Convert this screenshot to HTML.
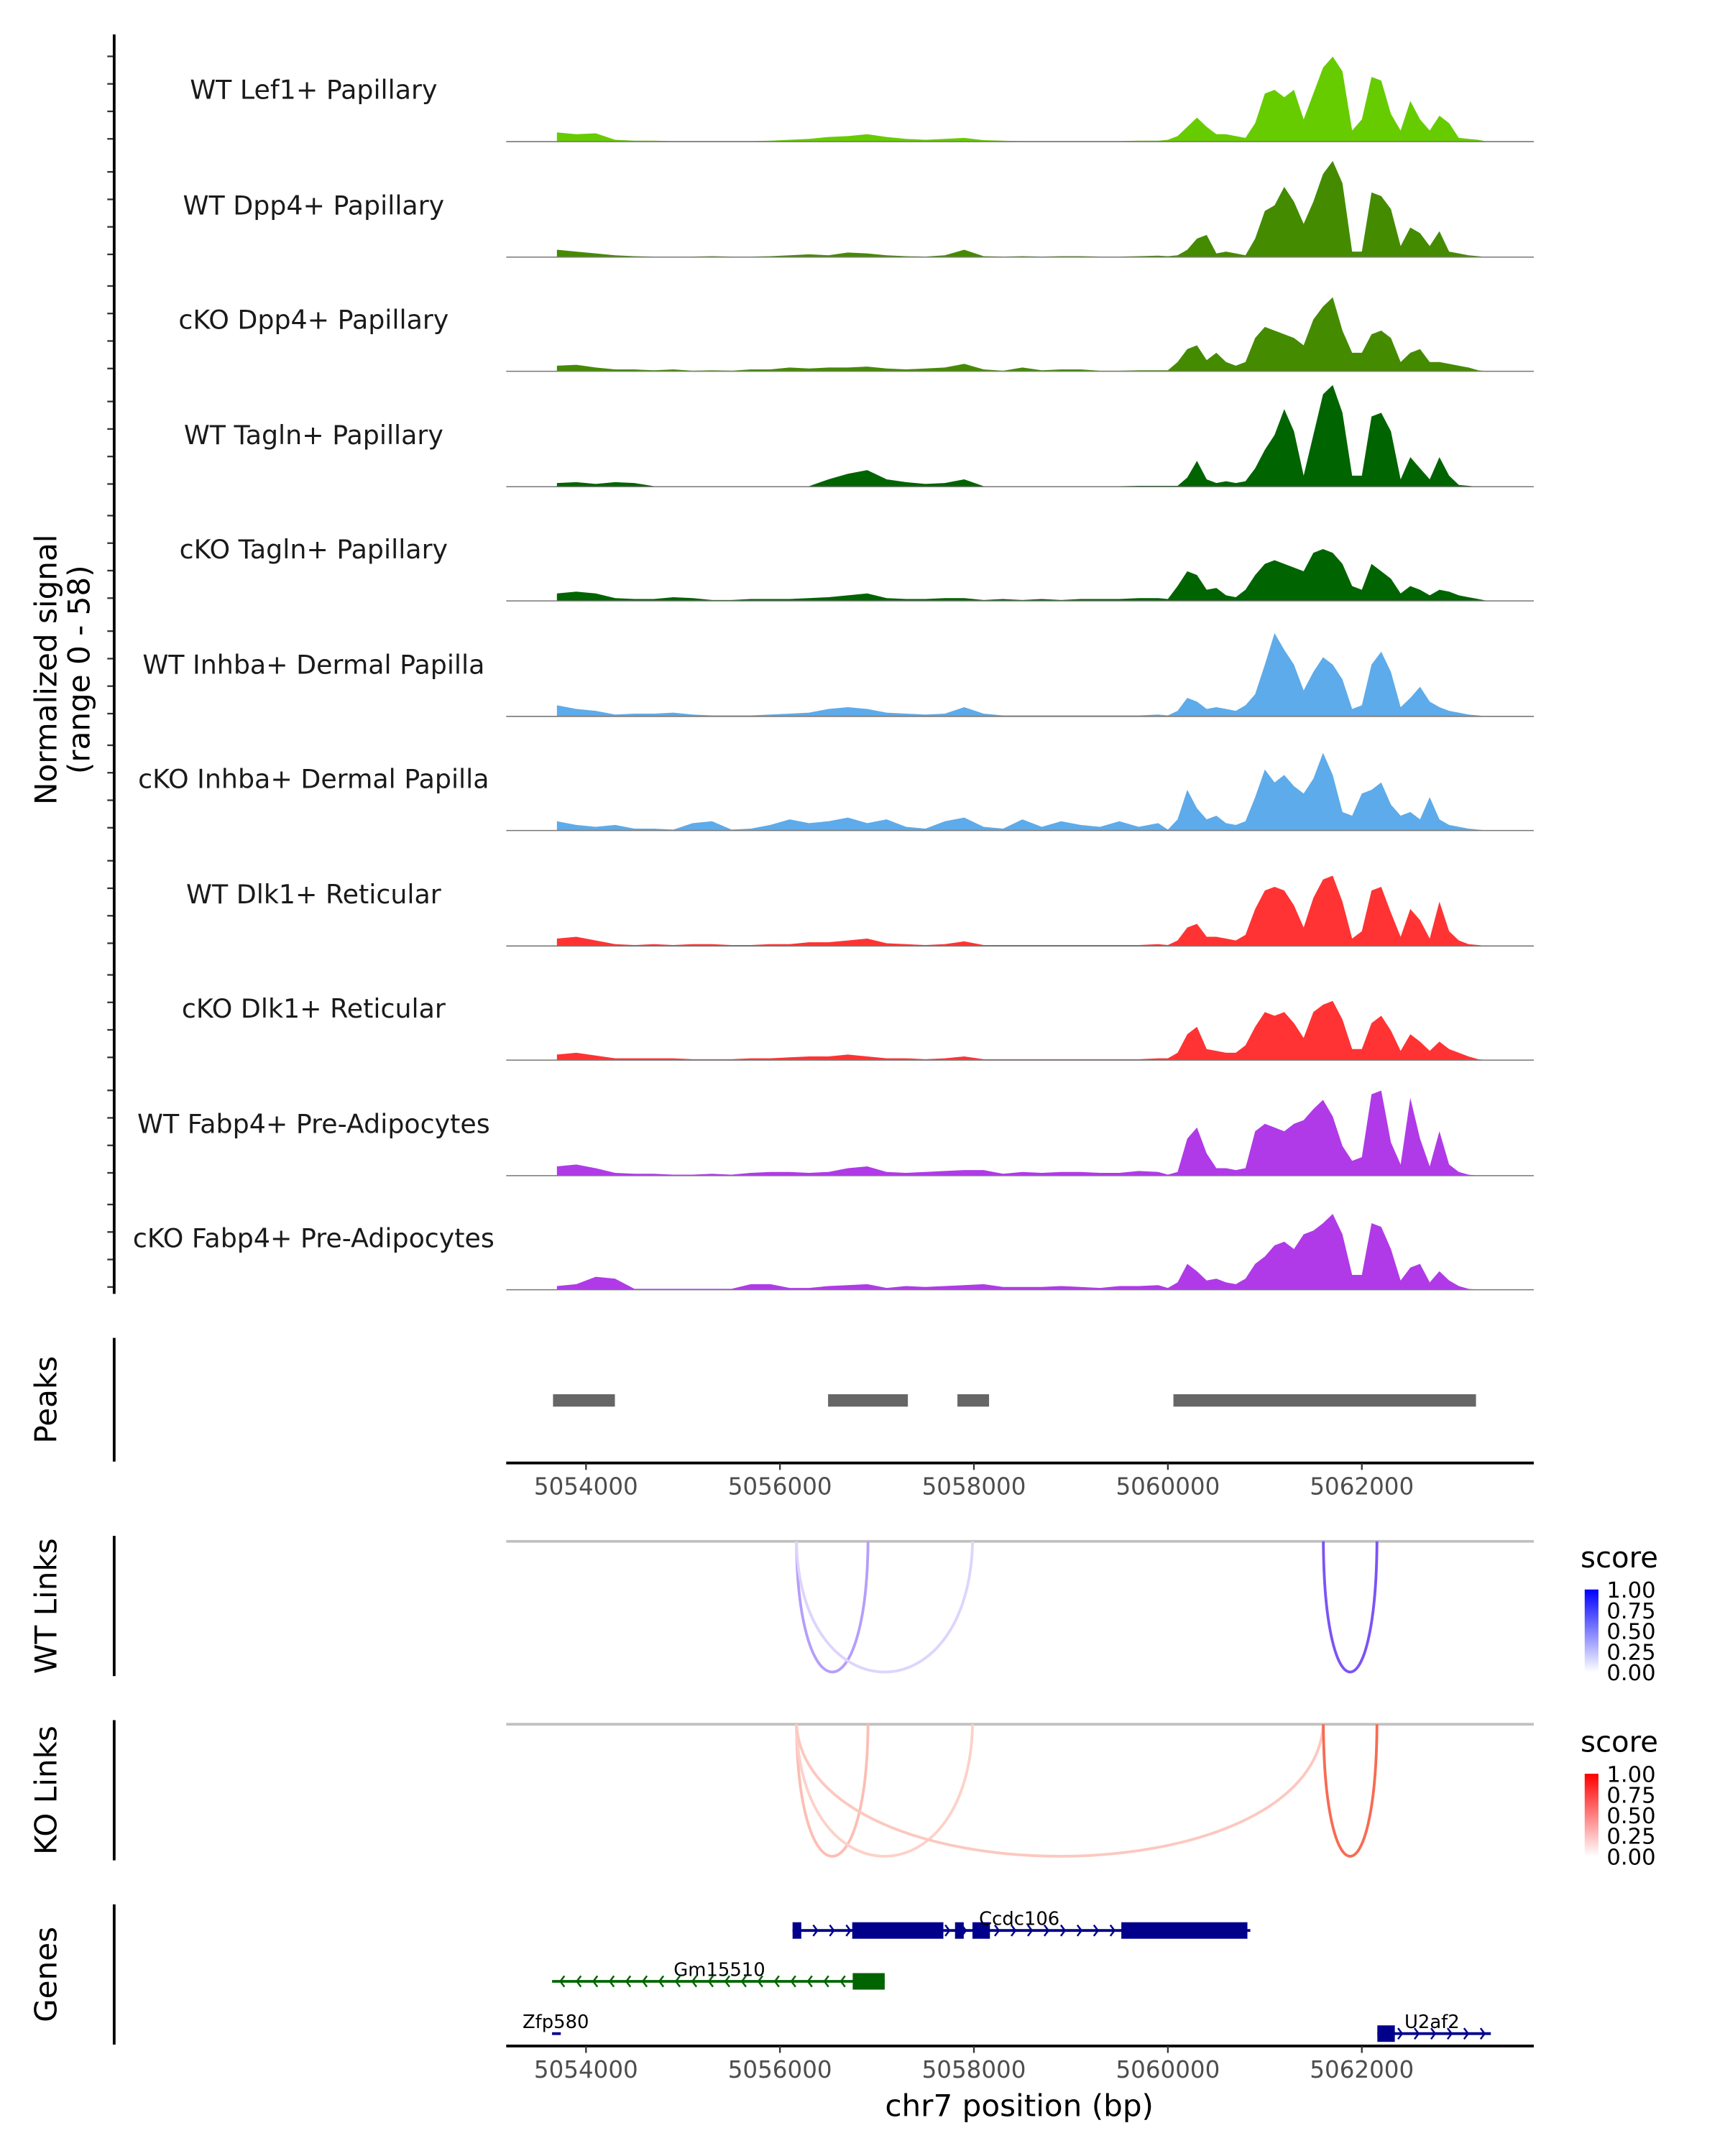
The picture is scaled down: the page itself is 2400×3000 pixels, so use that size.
<!DOCTYPE html>
<html><head><meta charset="utf-8">
<style>
html,body{margin:0;padding:0;background:#fff;}
svg{display:block;font-family:"DejaVu Sans","Liberation Sans",sans-serif;}
</style></head>
<body>
<svg id="chart" width="2400" height="3000" viewBox="0 0 1254 1568" preserveAspectRatio="none" xmlns="http://www.w3.org/2000/svg">
<defs>
<linearGradient id="gBlue" x1="0" y1="0" x2="0" y2="1"><stop offset="0" stop-color="#0000ff"/><stop offset="1" stop-color="#ffffff"/></linearGradient>
<linearGradient id="gRed" x1="0" y1="0" x2="0" y2="1"><stop offset="0" stop-color="#ff0000"/><stop offset="1" stop-color="#ffffff"/></linearGradient>
</defs>
<g id="root"></g>
</svg>
<script>
// ---------- data ----------
const trackNames = ["WT Lef1+ Papillary","WT Dpp4+ Papillary","cKO Dpp4+ Papillary","WT Tagln+ Papillary","cKO Tagln+ Papillary","WT Inhba+ Dermal Papilla","cKO Inhba+ Dermal Papilla","WT Dlk1+ Reticular","cKO Dlk1+ Reticular","WT Fabp4+ Pre-Adipocytes","cKO Fabp4+ Pre-Adipocytes"];
const trackColors = ["#66cc00","#448b00","#448b00","#006400","#006400","#5dabea","#5dabea","#ff3333","#ff3333","#b03ae8","#b03ae8"];
const binsLow = [5053700,5053900,5054100,5054300,5054500,5054700,5054900,5055100,5055300,5055500,5055700,5055900,5056100,5056300,5056500,5056700,5056900,5057100,5057300,5057500,5057700,5057900,5058100,5058300,5058500,5058700,5058900,5059100,5059300,5059500,5059700,5059900];
const binsHigh = [5060000,5060100,5060200,5060300,5060400,5060500,5060600,5060700,5060800,5060900,5061000,5061100,5061200,5061300,5061400,5061500,5061600,5061700,5061800,5061900,5062000,5062100,5062200,5062300,5062400,5062500,5062600,5062700,5062800,5062900,5063000,5063100,5063200,5063300];
const sigLow = [
[5,4,4.5,1,.5,.5,.3,.3,.3,.3,.3,.5,1,1.5,2.5,3,4,2.5,1.5,1,1.5,2,.8,.5,.3,.3,.3,.3,.3,.3,.5,.5],
[4,3,2,1,.5,.3,.3,.3,.5,.3,.3,.5,1,1.5,1,2.5,2,1,.5,.3,1,4,.5,.3,.5,.3,.5,.5,.3,.3,.5,.8],
[3,3.5,2,1,1,.5,1,.3,.5,.3,1,1,2,1.5,2,2,2.5,1.5,1,1.5,2,4,1,.3,2,.5,1,1,.3,.3,.5,.5],
[2,2.5,1.5,2.5,2,.3,.3,.3,.3,.3,.3,.3,.3,.3,4,7,9,4,2.5,1.5,2,4,.3,.3,.3,.3,.3,.3,.3,.3,.5,.5],
[4,5,4,1.5,1,1,2,1.5,.5,.5,1,1,1,1.5,2,3,4,1.5,1,1,1.5,1.5,.5,1,.5,1,.5,1,1,1,1.5,1.5],
[6,4,3,1,1.5,1.5,2,1,.5,.5,.5,1,1.5,2,4,5,4,2,1.5,1,1.5,5,1.5,.5,.5,.5,.5,.5,.5,.5,.5,1],
[5,3,2,3,1,1,.5,4,5,.5,1,3,6,4,5,7,4,6,2,1,5,7,2,1,6,2,5,3,2,5,2,4],
[4,5,3,1,.5,1,.5,1,1,.5,.5,1,1,2,2,3,4,1.5,1,.5,1,2.5,.5,.5,.5,.5,.5,.5,.5,.5,.5,1],
[3,4,2.5,1,1,1,1,.5,.5,.5,1,1,1.5,2,2,3,2,1,1,.5,1,2,.5,.5,.5,.5,.5,.5,.5,.5,.5,1],
[5,6,4,1.5,1,1,.5,.5,1,.5,1.5,2,2,1.5,2,4,5,2,1.5,2,2.5,3,3,1,2,1.5,2,2,1.5,1.5,2.5,2],
[2,3,7,6,.5,.5,.5,.5,.5,.5,3,3,1,1,2,2.5,3,1,2,1.5,2,2.5,3,1.5,1.5,1.5,2,1.5,1,2,2,2.5]
];
const sigHigh = [
[1,3,8,13,8,4,4,3,2,10,26,28,24,28,12,26,40,46,38,6,12,35,33,15,6,22,12,6,14,10,2,1.5,1,0],
[.5,1,4,10,12,2,3,2,1,10,25,28,38,30,18,30,45,52,40,3,3,35,33,26,6,16,13,6,14,3,2,1,.5,0],
[.5,5,12,14,6,10,5,3,5,18,24,22,20,18,14,28,35,40,22,10,10,20,22,18,5,10,12,5,5,4,3,2,.5,0],
[.5,.5,5,14,4,2,3,2,3,10,20,28,42,30,6,28,50,55,40,6,6,38,40,30,4,16,10,4,16,6,1,.5,0,0],
[1,8,16,14,6,7,3,2,6,14,20,22,20,18,16,26,28,26,20,8,6,20,16,12,4,8,6,3,6,5,3,2,1,0],
[.5,3,10,8,4,5,4,3,6,12,28,45,36,28,14,24,32,28,20,4,6,28,35,24,5,10,16,8,5,3,2,1,.5,0],
[.5,6,22,12,6,8,4,3,5,18,33,26,30,24,20,28,42,30,10,8,20,22,26,14,8,10,6,18,6,3,2,1,.5,0],
[.5,3,10,12,5,5,4,3,6,20,30,32,30,22,10,26,36,38,24,4,8,30,32,18,5,20,14,4,24,8,3,1,.5,0],
[1,4,14,18,6,5,4,4,8,18,26,24,26,20,12,26,30,32,22,6,6,20,24,16,5,14,10,5,10,6,4,2,.5,0],
[.5,2,20,26,12,4,4,3,4,24,28,26,24,28,30,36,41,32,16,8,10,44,46,18,6,42,20,5,24,6,2,.5,0,0],
[1,4,14,10,5,6,4,3,6,14,18,24,26,22,30,32,36,41,30,8,8,36,34,22,5,12,14,4,10,5,2,.5,0,0]
];
const peakStarts = [5053660,5056496,5057830,5060057];
const peakEnds = [5054298,5057319,5058156,5063177];
const axisTicks = [5054000,5056000,5058000,5060000,5062000];
const wtLinkStart = [5056170,5056170,5061603];
const wtLinkEnd = [5056908,5057986,5062156];
const wtLinkScore = [0.45,0.2,0.8];
const koLinkStart = [5056170,5056170,5056170,5061603];
const koLinkEnd = [5056908,5057986,5061603,5062156];
const koLinkScore = [0.35,0.25,0.3,0.8];
const legendLabels = ["1.00","0.75","0.50","0.25","0.00"];

// ---------- scales ----------
const X0 = 426, KX = 0.0705;
function xs(bp){ return X0 + (bp - 5054000) * KX; }
const TRACK_H = 78, YMAX = 58;
function ys(v, base){ return base - v / YMAX * TRACK_H; }
const NS = "http://www.w3.org/2000/svg";
const root = document.getElementById("root");
function mk(tag, attrs, parent){
  const e = document.createElementNS(NS, tag);
  for (const k in attrs) e.setAttribute(k, attrs[k]);
  (parent || root).appendChild(e);
  return e;
}

// ---------- coverage tracks ----------
const baselines = [103,187,270,354,437,521,604,688,771,855,938];
const bins = binsLow.concat(binsHigh);
trackNames.forEach((name, i) => {
  const g = mk("g", {});
  
  
  const base = baselines[i];
  const vals = sigLow[i].concat(sigHigh[i]);
  let d = "M" + xs(bins[0]) + "," + base;
  vals.forEach((v, j) => { d += " L" + xs(bins[j]).toFixed(2) + "," + ys(v, base).toFixed(2); });
  d += " L" + xs(bins[bins.length-1]) + "," + base + " Z";
  const area = mk("path", {d: d, fill: trackColors[i], stroke: "none"}, g);
  
  
  const bl = mk("line", {x1: 368, x2: 1115, y1: base, y2: base, stroke: "#777", "stroke-width": 0.8}, g);
  
  
  const lab = mk("text", {x: 228, y: base - 31, "text-anchor": "middle", "font-size": 19, fill: "#1a1a1a"}, g);
  lab.textContent = name;
  
  
  for (let t = 0; t < 4; t++) {
    const ty = base - 20 * t - 2;
    const tk = mk("line", {x1: 78, x2: 83, y1: ty, y2: ty, stroke: "#333", "stroke-width": 1.2}, g);
    
    
  }
});
const yax = mk("line", {x1: 83, x2: 83, y1: 25, y2: 941, stroke: "#000", "stroke-width": 2});


const yt = mk("text", {transform: "translate(46,487) rotate(-90)", "text-anchor": "middle", "font-size": 22, fill: "#000"});


const ts1 = mk("tspan", {x: 0, dy: -5}, yt); ts1.textContent = "Normalized signal";
const ts2 = mk("tspan", {x: 0, dy: 24}, yt); ts2.textContent = "(range 0 - 58)";

// ---------- helper: side panel title ----------
function panelTitle(txt, y1, y2, nm){
  const l = mk("line", {x1: 83, x2: 83, y1: y1, y2: y2, stroke: "#000", "stroke-width": 2});
  
  
  const t = mk("text", {transform: "translate(41," + ((y1+y2)/2) + ") rotate(-90)", "text-anchor": "middle", "font-size": 22, fill: "#000"});
  t.textContent = txt;
  
  
}
function xAxis(y, nm){
  const l = mk("line", {x1: 368, x2: 1115, y1: y, y2: y, stroke: "#000", "stroke-width": 2});
  
  
  axisTicks.forEach(t => {
    const tk = mk("line", {x1: xs(t), x2: xs(t), y1: y, y2: y + 5, stroke: "#333", "stroke-width": 1.2});
    
    
    const tl = mk("text", {x: xs(t), y: y + 23, "text-anchor": "middle", "font-size": 17, fill: "#4d4d4d"});
    tl.textContent = t;
    
    
  });
}

// ---------- peaks ----------
panelTitle("Peaks", 973, 1063, "peaks");
peakStarts.forEach((s, i) => {
  const r = mk("rect", {x: xs(s), y: 1014, width: xs(peakEnds[i]) - xs(s), height: 9, fill: "#666"});
  
  
});
xAxis(1064, "peaks-x-axis");

// ---------- links ----------
function blend(c, s){ return "rgb(" + c.map(v => Math.round(255 - (255 - v) * s)).join(",") + ")"; }
function links(starts, ends, scores, base, depth, col, nm){
  const bl = mk("line", {x1: 368, x2: 1115, y1: base, y2: base, stroke: "#c0c0c0", "stroke-width": 2});
  
  
  starts.forEach((s, i) => {
    const a = xs(s), b = xs(ends[i]);
    const w = b - a;
    const cy = base + depth * 4 / 3;
    const d = "M" + a + "," + base + " C" + (a + w * 0.02) + "," + cy + " " + (b - w * 0.02) + "," + cy + " " + b + "," + base;
    const p = mk("path", {d: d, fill: "none", stroke: blend(col, scores[i]), "stroke-width": 2});
    
    
  });
}
panelTitle("WT Links", 1117, 1219, "wt-links");
links(wtLinkStart, wtLinkEnd, wtLinkScore, 1121, 95, [90, 40, 245], "wt-link");
panelTitle("KO Links", 1251, 1353, "ko-links");
links(koLinkStart, koLinkEnd, koLinkScore, 1254, 96, [245, 70, 40], "ko-link");

function legend(y, grad, nm){
  const t = mk("text", {x: 1149, y: y, "font-size": 21, fill: "#000"});
  t.textContent = "score";
  
  
  const r = mk("rect", {x: 1152, y: y + 16, width: 10, height: 60, fill: "url(#" + grad + ")"});
  
  
  legendLabels.forEach((lb, i) => {
    const ty = y + 16 + i * 15;
    const tt = mk("text", {x: 1168, y: ty + 6, "font-size": 16, fill: "#000"});
    tt.textContent = lb;
    
    
  });
}
legend(1140, "gBlue", "wt-legend");
legend(1274, "gRed", "ko-legend");

// ---------- genes ----------
panelTitle("Genes", 1385, 1487, "genes");
function chevrons(x1, x2, y, dir, col, step){
  for (let x = x1 + 6; x < x2 - 3; x += step) {
    const p = mk("path", {d: "M" + (x - 3 * dir) + "," + (y - 4) + " L" + x + "," + y + " L" + (x - 3 * dir) + "," + (y + 4), fill: "none", stroke: col, "stroke-width": 1.3});
    
    
  }
}
function gene(name, lx, ly, lineA, lineB, y, exons, col, dir){
  const g = mk("g", {});
  
  
  const l = mk("line", {x1: xs(lineA), x2: xs(lineB), y1: y, y2: y, stroke: col, "stroke-width": 2}, g);
  
  
  chevrons(xs(lineA), xs(lineB), y, dir, col, 12);
  exons.forEach(e => {
    const r = mk("rect", {x: xs(e[0]), y: y - 6, width: Math.max(3, xs(e[1]) - xs(e[0])), height: 12, fill: col}, g);
    
    
  });
  const t = mk("text", {x: lx, y: ly, "text-anchor": "middle", "font-size": 13.5, fill: "#000"}, g);
  t.textContent = name;
  
  
}
gene("Ccdc106", 741, 1400, 5056130, 5060850, 1404, [[5056130,5056220],[5056745,5057685],[5057805,5057895],[5057985,5058165],[5059520,5060820]], "#00008b", 1);
gene("Gm15510", 523, 1437, 5053650, 5057080, 1441, [[5056750,5057080]], "#006400", -1);
gene("Zfp580", 404, 1475, 5053650, 5053740, 1479, [], "#00008b", 1);
gene("U2af2", 1041, 1475, 5062160, 5063330, 1479, [[5062160,5062340]], "#00008b", 1);

xAxis(1488, "x-axis");
const xt = mk("text", {x: 741, y: 1539, "text-anchor": "middle", "font-size": 22, fill: "#000"});
xt.textContent = "chr7 position (bp)";


</script>
</body></html>
